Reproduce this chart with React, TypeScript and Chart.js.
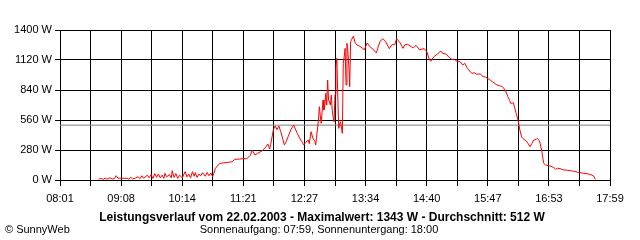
import { useEffect, useRef } from "react";
import { Chart, registerables } from "chart.js";

Chart.register(...registerables);

// Time of day in minutes after midnight
const minutes = [
  523, 526, 528, 530, 532, 535, 538, 540, 542, 544, 547, 551, 554, 556, 558, 560, 563, 566, 568, 570,
  572, 576, 578, 580, 582, 584, 586, 588, 590, 592, 594, 595, 597, 600, 602, 603, 605, 607, 609, 611,
  614, 617, 619, 621, 623, 625, 627, 628, 630, 632, 634, 636, 639, 641, 643, 645, 647, 650, 653, 655,
  659, 664, 668, 671, 676, 680, 684, 688, 690, 693, 696, 701, 704, 707, 709, 710, 713, 715, 717, 719,
  721, 725, 727, 729, 732, 735, 739, 741, 744, 746, 748, 751, 752, 754, 756, 758, 759, 760, 762, 763,
  764, 765, 767, 768, 769, 770, 771, 772, 773, 775, 776, 777, 778, 779, 780, 781, 782, 783, 784, 785,
  786, 788, 789, 790, 791, 792, 793, 794, 795, 796, 797, 798, 800, 802, 804, 807, 812, 815, 818, 820,
  825, 827, 829, 832, 835, 839, 842, 845, 847, 851, 854, 856, 859, 863, 865, 868, 872, 877, 880, 882,
  884, 888, 891, 895, 897, 901, 904, 907, 910, 913, 916, 919, 921, 924, 927, 929, 932, 934, 938, 941,
  944, 946, 949, 951, 954, 956, 959, 962, 965, 967, 968, 970, 971, 974, 975, 977, 979, 981, 983, 984,
  988, 990, 992, 994, 996, 999, 1000, 1002, 1003, 1005, 1006, 1007, 1009, 1012, 1014, 1016, 1018, 1020, 1022, 1026,
  1028, 1030, 1033, 1038, 1041, 1044, 1046, 1050, 1053, 1057, 1061, 1063,
];

// Power in W
const watts = [
  8, 15, 5, 18, 8, 20, 10, 12, 40, 18, 16, 16, 16, 8, 25, 10, 18, 30, 12, 40,
  15, 45, 20, 50, 15, 60, 25, 56, 20, 45, 15, 62, 30, 50, 20, 87, 25, 60, 15, 45,
  20, 78, 30, 55, 20, 78, 35, 70, 25, 55, 40, 68, 35, 70, 40, 65, 30, 109, 140, 155,
  160, 165, 170, 193, 195, 199, 199, 230, 280, 233, 250, 274, 300, 336, 289, 330, 470, 504, 470, 504,
  451, 327, 360, 404, 470, 513, 435, 400, 358, 327, 350, 373, 340, 451, 389, 360, 327, 400, 560, 684,
  600, 529, 747, 653, 700, 809, 700, 933, 747, 700, 793, 650, 591, 544, 800, 1058, 1136, 793, 482, 520,
  544, 435, 1089, 1150, 1229, 887, 1276, 1200, 1073, 871, 1291, 1310, 1343, 1276, 1260, 1248, 1216, 1279, 1244, 1232,
  1185, 1244, 1294, 1319, 1294, 1226, 1263, 1263, 1319, 1279, 1229, 1263, 1266, 1244, 1232, 1257, 1216, 1226, 1195, 1139,
  1108, 1155, 1173, 1204, 1182, 1176, 1145, 1126, 1126, 1104, 1104, 1073, 1090, 1042, 1010, 996, 1000, 987, 990, 965,
  960, 949, 930, 918, 900, 887, 880, 871, 840, 800, 778, 740, 716, 720, 684, 622, 560, 467, 400, 389,
  364, 340, 311, 340, 373, 380, 389, 370, 342, 264, 200, 156, 140, 134, 130, 124, 115, 100, 110, 103,
  95, 93, 90, 84, 80, 72, 70, 62, 60, 53, 40, 7,
];

const xTickLabels = ["08:01", "09:08", "10:14", "11:21", "12:27", "13:34", "14:40", "15:47", "16:53", "17:59"];
const xStart = 481; // 08:01
const xEnd = 1079; // 17:59
const yTickValues = [0, 280, 560, 840, 1120, 1400];
const averageWatts = 512;

const titleText = "Leistungsverlauf vom 22.02.2003 - Maximalwert: 1343 W - Durchschnitt: 512 W";
const subtitleText = "Sonnenaufgang: 07:59, Sonnenuntergang: 18:00";
const creditText = "\u00A9 SunnyWeb";

const FONT = "'Liberation Sans', Arial, sans-serif";

export default function App() {
  const ref = useRef<HTMLCanvasElement | null>(null);

  useEffect(() => {
    if (!ref.current) return;
    const points = minutes.map((m, i) => ({ x: m, y: watts[i] }));
    const avgLine = [
      { x: xStart, y: averageWatts },
      { x: xEnd, y: averageWatts },
    ];

    const textPlugin = {
      id: "texts",
      beforeDraw(chart: any) {
        const c = chart.ctx;
        c.save();
        c.fillStyle = "#ffffff";
        c.fillRect(0, 0, chart.width, chart.height);
        c.restore();
      },
      afterDraw(chart: any) {
        const c = chart.ctx;
        c.save();
        c.fillStyle = "#000000";
        c.textBaseline = "alphabetic";
        c.font = `bold 12px ${FONT}`;
        c.textAlign = "center";
        c.fillText(titleText, 322, 221);
        c.font = `11px ${FONT}`;
        c.fillText(subtitleText, 319, 233);
        c.textAlign = "left";
        c.fillText(creditText, 5, 233);
        c.restore();
      },
    };

    const chart = new Chart(ref.current, {
      type: "line",
      data: {
        datasets: [
          {
            data: points,
            borderColor: "#ff0000",
            borderWidth: 1,
            pointRadius: 0,
            tension: 0,
            fill: false,
          },
          {
            data: avgLine,
            borderColor: "#808080",
            borderWidth: 1,
            pointRadius: 0,
            fill: false,
          },
        ],
      },
      options: {
        animation: false,
        responsive: false,
        events: [],
        layout: { padding: { top: 30, right: 30, left: 0, bottom: 0 } },
        plugins: { legend: { display: false }, tooltip: { enabled: false } },
        scales: {
          x: {
            type: "linear",
            min: xStart,
            max: xEnd,
            afterBuildTicks: (scale: any) => {
              const n = (xTickLabels.length - 1) * 2;
              const ticks = [];
              for (let i = 0; i <= n; i++) ticks.push({ value: xStart + (i * (xEnd - xStart)) / n });
              scale.ticks = ticks;
            },
            afterFit: (scale: any) => {
              scale.height = 60;
            },
            grid: { color: "#000000", lineWidth: 1, tickLength: 6, drawTicks: true },
            border: { color: "#000000", width: 1 },
            ticks: {
              autoSkip: false,
              maxRotation: 0,
              padding: 6,
              color: "#000000",
              font: { family: FONT, size: 11 },
              callback: (_v: any, i: number) => (i % 2 === 0 ? xTickLabels[i / 2] : ""),
            },
          },
          y: {
            min: 0,
            max: 1400,
            afterBuildTicks: (scale: any) => {
              scale.ticks = yTickValues.map((v) => ({ value: v }));
            },
            afterFit: (scale: any) => {
              scale.width = 60;
            },
            grid: { color: "#000000", lineWidth: 1, tickLength: 5 },
            border: { color: "#000000", width: 1 },
            ticks: {
              padding: 3,
              color: "#000000",
              font: { family: FONT, size: 11 },
              callback: (v: any) => `${v} W`,
            },
          },
        },
      },
      plugins: [textPlugin],
    });
    return () => chart.destroy();
  }, []);

  return (
    <div style={{ position: "fixed", left: 0, top: 0, width: 640, height: 240, background: "#fff" }}>
      <canvas ref={ref} width={640} height={240} style={{ display: "block" }} />
    </div>
  );
}
